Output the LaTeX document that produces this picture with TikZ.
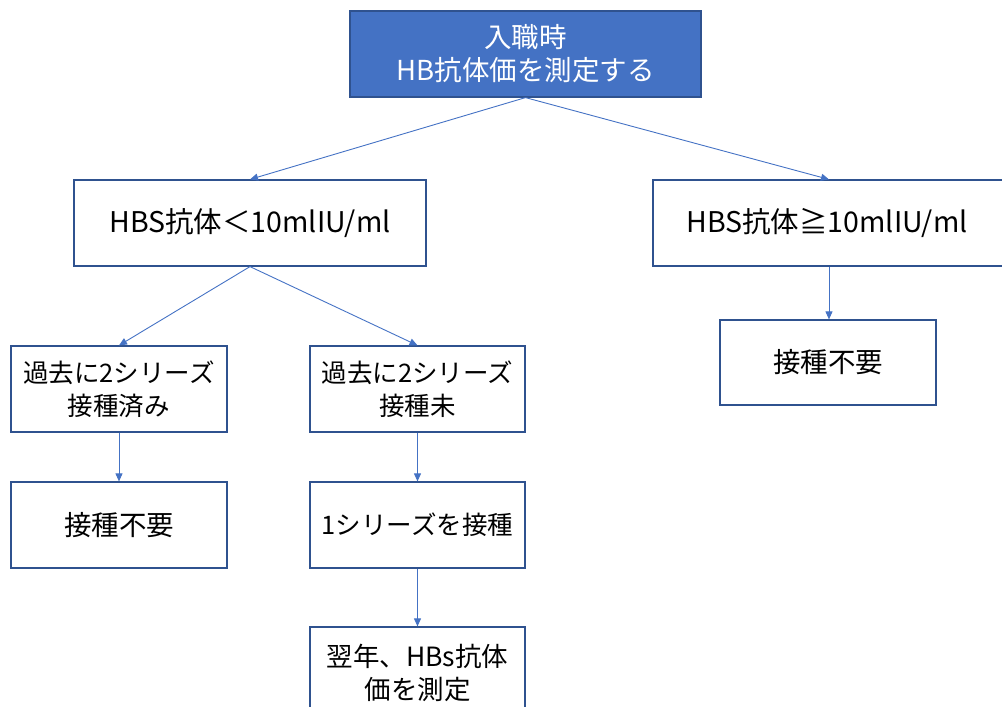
\documentclass[tikz,border=0pt]{standalone}
\usepackage{fontspec}
\setmainfont{Noto Sans CJK JP}
\usetikzlibrary{arrows.meta}
\definecolor{accent}{HTML}{4472C4}
\definecolor{accentdark}{HTML}{2F528F}
\tikzset{
  box/.style={draw=accentdark, line width=1.2pt, fill=white, align=center,
    inner sep=0pt, font=\fontsize{28.5}{33}\selectfont, text=black},
  smallbox/.style={box, font=\fontsize{25.5}{33}\selectfont},
  topbox/.style={box, fill=accent, text=white},
  link/.style={draw=accent, line width=0.9pt, -{Triangle[length=8pt,width=7pt]}}
}
\begin{document}
\begin{tikzpicture}[x=1pt,y=-1pt]
\clip (0,0) rectangle (1002,707);
\useasboundingbox (0,0) rectangle (1002,707);
\node[topbox, minimum width=351pt, minimum height=86pt, font=\fontsize{27.5}{33}\selectfont] (top) at (525.5,54) {入職時\\HB抗体価を測定する};
\node[box, minimum width=352pt, minimum height=86pt] (low) at (250,223) {HBS抗体＜10mlIU/ml};
\node[box, minimum width=352pt, minimum height=86pt] (high) at (829,223) {\hspace*{-4pt}HBS抗体≧10mlIU/ml};
\node[box, minimum width=216pt, minimum height=85pt, font=\fontsize{27.5}{33}\selectfont] (noneed2) at (828,362.5) {接種不要};
\node[smallbox, minimum width=216pt, minimum height=86pt] (done) at (119,389) {過去に2シリーズ\\接種済み};
\node[smallbox, minimum width=215pt, minimum height=86pt] (notdone) at (417.5,389) {過去に2シリーズ\\接種未};
\node[box, minimum width=216pt, minimum height=86pt, font=\fontsize{27.5}{33}\selectfont] (noneed1) at (119,525) {接種不要};
\node[smallbox, minimum width=215pt, minimum height=86pt] (onevac) at (417.5,525) {1シリーズを接種};
\node[box, minimum width=215pt, minimum height=100pt] (nextyear) at (417.5,677) {};
\node[font=\fontsize{26.5}{33}\selectfont, align=center, inner sep=0pt] (nytext) at (417.5,673) {翌年、HBs抗体\\価を測定};
\draw[link] (top.south) -- (low.north);
\draw[link] (top.south) -- (high.north);
\draw[link] (high.south) -- (high.south |- noneed2.north);
\draw[link] (low.south) -- (done.north);
\draw[link] (low.south) -- (notdone.north);
\draw[link] (done.south) -- (noneed1.north);
\draw[link] (notdone.south) -- (onevac.north);
\draw[link] (onevac.south) -- (nextyear.north);
\end{tikzpicture}
\end{document}
